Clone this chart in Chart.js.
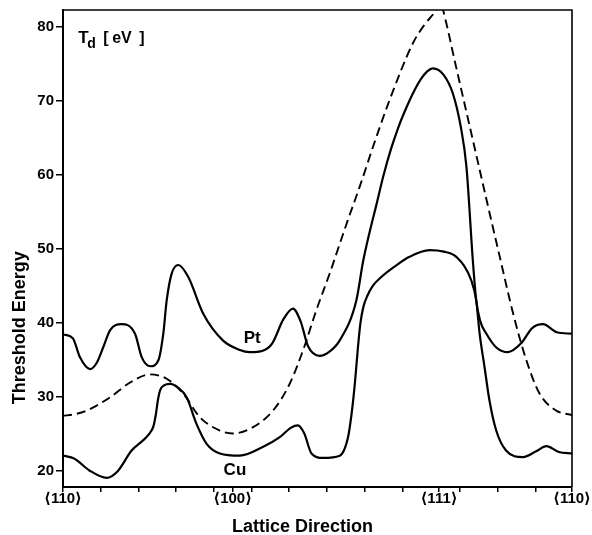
<!DOCTYPE html>
<html>
<head>
<meta charset="utf-8">
<script src="https://cdn.jsdelivr.net/npm/chart.js@4.4.1/dist/chart.umd.min.js"></script>
<style>
  html, body { margin: 0; padding: 0; background: #fff; }
  canvas { display: block; }
</style>
</head>
<body>
<canvas id="chart" width="592" height="535"></canvas>
<script>
// angle along the stereographic triangle edge (deg), threshold energy (eV)
const ptAngle  = [0, 2.6, 4.5, 7.2, 9.0, 10.7, 12.5, 15.5, 19.1, 20.9, 23.2, 25.3, 26.6, 27.5, 28.8, 30.6, 33.2, 37.2, 42.4, 46.9, 49.5, 53, 55.5, 58.5, 61, 63, 65, 68.1, 70.5, 73.4, 77.8, 79.6, 81.3, 83.1, 85, 87, 89, 91, 93, 95, 96.6, 98.1, 101, 103.4, 105.5, 107, 108.7, 109.6, 110.6, 112.3, 115, 118, 121.5, 124.5, 127.3, 131, 135];
const ptEnergy = [38.4, 37.9, 35.3, 33.7, 34.6, 36.7, 39.0, 39.8, 38.5, 35.3, 34.1, 34.9, 38.5, 43.0, 46.6, 47.8, 46.2, 41.2, 37.6, 36.3, 36.0, 36.2, 37.2, 40.5, 41.9, 40.2, 36.8, 35.5, 36.0, 37.6, 43.0, 48.3, 52.2, 55.9, 59.9, 63.5, 66.5, 69.0, 71.2, 73.0, 74.0, 74.4, 73.5, 71.0, 66.5, 61.1, 48.4, 43.0, 40.3, 38.5, 36.6, 36.0, 37.2, 39.3, 39.8, 38.7, 38.5];

const cuAngle  = [0, 3, 7, 11.6, 14.5, 18.2, 21.3, 22.8, 24.0, 24.6, 25.2, 25.8, 26.8, 28.4, 30.5, 32.8, 35.4, 38.1, 41.6, 46.9, 53.1, 57.5, 60.5, 62.3, 64, 65.9, 69, 73.4, 75.6, 76.5, 77.4, 78.2, 78.9, 79.7, 80.7, 82.2, 84.5, 88, 91.9, 97.2, 101, 104.3, 108.3, 109.6, 110.5, 111.8, 113.1, 114.9, 117.5, 122, 125.5, 128.2, 131.5, 135];
const cuEnergy = [22.0, 21.6, 20.0, 19.0, 19.9, 22.7, 24.1, 24.9, 26.0, 27.5, 29.6, 30.9, 31.5, 31.7, 31.2, 29.9, 26.3, 23.6, 22.3, 22.0, 23.2, 24.5, 25.8, 26.1, 25.0, 22.3, 21.7, 22.0, 24.5, 27.5, 31.7, 36.5, 40.0, 42.2, 43.6, 45.0, 46.2, 47.6, 48.9, 49.8, 49.6, 48.9, 45.7, 43.0, 38.5, 34.0, 29.5, 25.4, 22.7, 21.8, 22.6, 23.3, 22.5, 22.3];

const calcAngle  = [0, 3, 6.3, 12.5, 17.8, 23.1, 27.5, 31.9, 36.3, 41.6, 45, 49.5, 55.7, 60.1, 63.7, 67.2, 70.7, 72.5, 75.5, 78.7, 82.5, 86.6, 92.8, 96, 99, 100.1, 100.8, 104.3, 107, 110.5, 112.7, 115.8, 119.3, 122.9, 126.4, 130.8, 135];
const calcEnergy = [27.4, 27.6, 28.1, 29.9, 31.9, 33.0, 32.4, 30.4, 27.2, 25.4, 25.0, 25.6, 28.1, 31.7, 36.3, 41.7, 46.6, 49.3, 53.8, 58.4, 64.2, 70.1, 77.8, 80.4, 82.3, 83.4, 82.3, 74.5, 68.5, 60.7, 55.8, 49.0, 41.4, 34.9, 30.4, 28.1, 27.5];

const energyTicks = [20, 30, 40, 50, 60, 70, 80];
const dirAngles = [0, 45, 99.74, 135];
const dirLabels = ['⟨110⟩', '⟨100⟩', '⟨111⟩', '⟨110⟩'];
const minorAngles = [10, 20, 30, 40, 50, 60, 70, 80, 90, 105.26, 115.26, 125.26];

const FONT = '"Liberation Sans", "DejaVu Sans", sans-serif';

function toPoints(xs, ys) {
    return xs.map((x, i) => ({ x: x, y: ys[i] }));
}

// frame, axis labels and the curve names
const decorations = {
    id: 'decorations',
    afterDraw(chart) {
        const ctx = chart.ctx;
        const a = chart.chartArea;
        const xs = chart.scales.x;
        const ys = chart.scales.y;
        ctx.save();
        ctx.strokeStyle = '#000';
        ctx.lineWidth = 1.6;
        ctx.beginPath();
        ctx.moveTo(a.left, a.top);
        ctx.lineTo(a.right, a.top);
        ctx.lineTo(a.right, a.bottom);
        ctx.stroke();

        ctx.fillStyle = '#000';
        ctx.textAlign = 'center';
        ctx.textBaseline = 'alphabetic';
        ctx.font = 'bold 15px ' + FONT;
        dirAngles.forEach((v, i) => {
            ctx.fillText(dirLabels[i], xs.getPixelForValue(v), a.bottom + 16);
        });

        ctx.font = 'bold 18px ' + FONT;
        ctx.fillText('Lattice Direction', (a.left + a.right) / 2 - 15, a.bottom + 45);

        ctx.save();
        ctx.translate(20, ys.getPixelForValue(39.3));
        ctx.rotate(-Math.PI / 2);
        ctx.textBaseline = 'middle';
        ctx.fillText('Threshold Energy', 0, 0);
        ctx.restore();

        ctx.font = 'bold 17px ' + FONT;
        ctx.textBaseline = 'middle';
        ctx.fillText('Pt', xs.getPixelForValue(50.2), ys.getPixelForValue(37.9));
        ctx.fillText('Cu', xs.getPixelForValue(45.6), ys.getPixelForValue(20.0));

        // T_d [eV]
        ctx.textAlign = 'left';
        ctx.textBaseline = 'alphabetic';
        const tx = xs.getPixelForValue(4.3);
        const ty = ys.getPixelForValue(77.9);
        ctx.font = 'bold 17px ' + FONT;
        ctx.fillText('T', tx - 1, ty);
        ctx.font = 'bold 14px ' + FONT;
        ctx.fillText('d', tx + 8, ty + 5);
        ctx.font = 'bold 16px ' + FONT;
        ctx.fillText('[', tx + 24, ty);
        ctx.fillText('eV', tx + 33, ty);
        ctx.fillText(']', tx + 60, ty);
        ctx.restore();
    }
};

const lineStyle = {
    borderColor: '#000',
    borderWidth: 2.2,
    pointRadius: 0,
    fill: false,
    cubicInterpolationMode: 'monotone'
};

new Chart(document.getElementById('chart'), {
    type: 'line',
    data: {
        datasets: [
            Object.assign({ label: 'Pt', data: toPoints(ptAngle, ptEnergy) }, lineStyle),
            Object.assign({ label: 'Cu', data: toPoints(cuAngle, cuEnergy) }, lineStyle),
            Object.assign({ label: 'calc', data: toPoints(calcAngle, calcEnergy) }, lineStyle, { borderDash: [9, 5], borderWidth: 1.9 })
        ]
    },
    options: {
        responsive: false,
        animation: false,
        devicePixelRatio: 1,
        layout: { padding: { top: 10, right: 20, left: 0, bottom: 0 } },
        plugins: { legend: { display: false }, tooltip: { enabled: false } },
        scales: {
            x: {
                type: 'linear',
                min: 0,
                max: 135,
                afterBuildTicks: (s) => {
                    s.ticks = dirAngles.concat(minorAngles).sort((p, q) => p - q).map(v => ({ value: v }));
                },
                afterFit: (s) => { s.height = 48; s.paddingLeft = 0; s.paddingRight = 0; },
                ticks: { display: false },
                grid: { drawOnChartArea: false, drawTicks: true, tickLength: 5, color: '#000', lineWidth: 1.5 },
                border: { display: true, color: '#000', width: 2 }
            },
            y: {
                min: 17.76,
                max: 82.3,
                afterBuildTicks: (s) => {
                    s.ticks = energyTicks.map(v => ({ value: v }));
                },
                afterFit: (s) => { s.width = 63; s.paddingTop = 0; s.paddingBottom = 0; },
                ticks: {
                    color: '#000',
                    padding: 2,
                    font: { family: FONT, size: 15, weight: 'bold' }
                },
                grid: { drawOnChartArea: false, drawTicks: true, tickLength: 7, color: '#000', lineWidth: 1.5 },
                border: { display: true, color: '#000', width: 2 }
            }
        }
    },
    plugins: [decorations]
});
</script>
</body>
</html>
